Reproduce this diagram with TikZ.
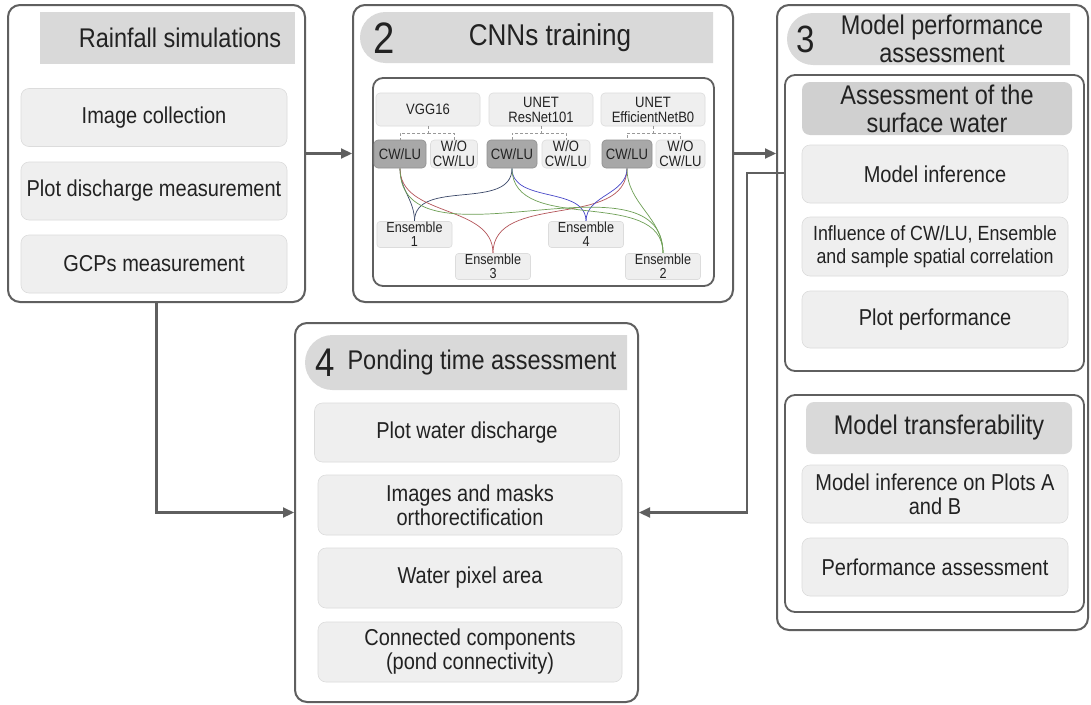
\documentclass[tikz,border=0pt]{standalone}
\usepackage{fontspec}
\setmainfont{Liberation Sans}[FakeStretch=0.87]
\usetikzlibrary{arrows.meta,shapes.misc,backgrounds}

\definecolor{boxline}{HTML}{5F5F5F}
\definecolor{hdrgrey}{HTML}{D9D9D9}
\definecolor{hdrdark}{HTML}{D0D0D0}
\definecolor{itemfill}{HTML}{EFEFEF}
\definecolor{itemline}{HTML}{DCDCDC}
\definecolor{cwfill}{HTML}{A8A8A8}
\definecolor{txt}{HTML}{222222}
\definecolor{ensA}{HTML}{3B4868}
\definecolor{ensB}{HTML}{6E9F55}
\definecolor{ensC}{HTML}{B4555A}
\definecolor{ensD}{HTML}{4646C8}

\newcommand{\fhead}{\fontsize{27}{28}\selectfont}
\newcommand{\fitem}{\fontsize{23}{24}\selectfont}
\newcommand{\fsmall}{\fontsize{15}{15}\selectfont}
\newcommand{\fens}{\fontsize{14.5}{14}\selectfont}

\tikzset{
  mainbox/.style={draw=boxline, line width=2pt, rounded corners=12pt},
  subbox/.style={draw=boxline, line width=1.8pt, rounded corners=10pt},
  hdr/.style={fill=hdrgrey, inner sep=0pt, text=txt, align=center, font=\fhead},
  hdrround/.style={hdr, shape=rounded rectangle, rounded rectangle right arc=none},
  ttl/.style={text=txt, align=center, inner sep=0pt},
  item/.style={fill=itemfill, draw=itemline, line width=0.6pt, rounded corners=8pt,
    inner sep=0pt, text=txt, font=\fitem, align=center},
  model/.style={item, font=\fsmall, rounded corners=4pt},
  cw/.style={model, fill=cwfill, draw=cwfill!85!black},
  ens/.style={model, font=\fens, rounded corners=3pt},
  link/.style={draw=boxline, line width=2.2pt, -{Triangle[length=11pt,width=10pt]}},
  brk/.style={draw=black!40, densely dashed, line width=0.5pt},
  mix/.style={line width=0.7pt, out=-90, in=90},
}

\begin{document}
\begin{tikzpicture}[x=1pt,y=-1pt]
  \useasboundingbox (0,0) rectangle (1091,704);

  % rainfall simulations
  \node[mainbox, minimum width=297pt, minimum height=297pt] (rain) at (156.5,153.5) {};
  \node[hdr, minimum width=255pt, minimum height=52pt] (rainhd) at (167.5,38) {};
  \node[ttl, font=\fhead] (raintt) at (180,38) {Rainfall simulations};
  \node[item, minimum width=266pt, minimum height=58pt] (img) at (154,117.5) {Image collection};
  \node[item, minimum width=266pt, minimum height=58pt] (dis) at (154,191) {Plot discharge measurement};
  \node[item, minimum width=266pt, minimum height=58pt] (gcp) at (154,264) {GCPs measurement};

  % CNNs training
  \node[mainbox, minimum width=380pt, minimum height=297pt] (cnn) at (543,153.5) {};
  \node[hdrround, minimum width=353pt, minimum height=51pt] (cnnhd) at (536.5,37.5) {};
  \node[ttl, font=\fontsize{44}{44}\selectfont] (cnnno) at (384,38) {2};
  \node[ttl, font=\fontsize{30}{30}\selectfont] (cnntt) at (550,38) {CNNs training};
  \node[subbox, minimum width=341pt, minimum height=208pt] (net) at (543.5,182) {};

  \node[model, minimum width=104pt, minimum height=33pt] (vgg) at (428,109.5) {VGG16};
  \node[model, minimum width=104pt, minimum height=33pt] (res) at (541,109.5) {UNET\\ResNet101};
  \node[model, minimum width=104pt, minimum height=33pt] (eff) at (653,109.5) {UNET\\EfficientNetB0};

  \node[cw, minimum width=52pt, minimum height=28pt] (cw1) at (400,154) {CW/LU};
  \node[model, minimum width=47pt, minimum height=28pt] (wo1) at (454,154) {W/O\\CW/LU};
  \node[cw, minimum width=50pt, minimum height=28pt] (cw2) at (512,154) {CW/LU};
  \node[model, minimum width=48pt, minimum height=28pt] (wo2) at (566,154) {W/O\\CW/LU};
  \node[cw, minimum width=50pt, minimum height=28pt] (cw3) at (627,154) {CW/LU};
  \node[model, minimum width=49pt, minimum height=28pt] (wo3) at (680.5,154) {W/O\\CW/LU};

  \foreach \m/\a/\b in {vgg/cw1/wo1, res/cw2/wo2, eff/cw3/wo3} {
    \draw[brk] (\m.south) -- ++(0,7) -| (\a.north);
    \draw[brk] (\m.south) ++(0,7) -| (\b.north);
  }

  \node[ens, minimum width=75pt, minimum height=26pt] (e1) at (414.5,234.5) {Ensemble\\1};
  \node[ens, minimum width=75pt, minimum height=26pt] (e4) at (586,234.5) {Ensemble\\4};
  \node[ens, minimum width=75pt, minimum height=26pt] (e3) at (493,266.5) {Ensemble\\3};
  \node[ens, minimum width=75pt, minimum height=26pt] (e2) at (663,266.5) {Ensemble\\2};

  \begin{scope}[on background layer]
    \fill[white] (0,0) rectangle (1091,704);
    \foreach \s/\t/\c in {cw1/e1/ensA, cw2/e1/ensA, cw1/e3/ensC, cw3/e3/ensC,
                          cw2/e4/ensD, cw3/e4/ensD, cw1/e2/ensB, cw2/e2/ensB, cw3/e2/ensB}
      \draw[mix, \c] (\s.south) to (\t.north);
  \end{scope}

  % model performance assessment
  \node[mainbox, minimum width=311pt, minimum height=625pt] (perf) at (932.5,317.5) {};
  \node[hdrround, minimum width=283pt, minimum height=52pt] (perfhd) at (928.5,39) {};
  \node[ttl, font=\fontsize{38}{38}\selectfont] (perfno) at (806,39) {3};
  \node[ttl, font=\fhead] (perftt) at (942,39) {Model performance\\assessment};

  \node[subbox, minimum width=299pt, minimum height=296pt] (surf) at (934.5,223) {};
  \node[hdr, fill=hdrdark, rounded corners=8pt, minimum width=270pt, minimum height=53pt] (surfhd) at (937,108.5) {Assessment of the\\surface water};
  \node[item, minimum width=266pt, minimum height=58pt] (inf) at (935,174) {Model inference};
  \node[item, font=\fontsize{20.5}{23}\selectfont, minimum width=266pt, minimum height=59pt] (infl) at (935,246.5) {Influence of CW/LU, Ensemble\\and sample spatial correlation};
  \node[item, minimum width=266pt, minimum height=57pt] (plotp) at (935,319.5) {Plot performance};

  \node[subbox, minimum width=299pt, minimum height=217pt] (trans) at (934.5,503.5) {};
  \node[hdr, rounded corners=8pt, minimum width=266pt, minimum height=52pt] (transhd) at (939,428) {Model transferability};
  \node[item, minimum width=266pt, minimum height=58pt] (infab) at (935,494) {Model inference on Plots A\\and B};
  \node[item, minimum width=266pt, minimum height=58pt] (pass) at (935,567) {Performance assessment};

  % ponding time assessment
  \node[mainbox, minimum width=343pt, minimum height=379pt] (pond) at (466.5,512.5) {};
  \node[hdrround, minimum width=322pt, minimum height=55pt] (pondhd) at (466,362.5) {};
  \node[ttl, font=\fontsize{40}{40}\selectfont] (pondno) at (325,362.5) {4};
  \node[ttl, font=\fhead] (pondtt) at (482,362.5) {Ponding time assessment};
  \node[item, minimum width=305pt, minimum height=59pt] (pwd) at (467,432.5) {Plot water discharge};
  \node[item, minimum width=304pt, minimum height=60pt] (ortho) at (470,505) {Images and masks\\orthorectification};
  \node[item, minimum width=304pt, minimum height=60pt] (wpa) at (470,578) {Water pixel area};
  \node[item, minimum width=304pt, minimum height=60pt] (conn) at (470,652) {Connected components\\(pond connectivity)};

  % connectors
  \draw[link] (rain.east) -- (cnn.west);
  \draw[link] (cnn.east) -- (cnn.east -| perf.west);
  \draw[link] ([yshift=50pt]surf.west) -- ++(-37,0) |- (pond.east);
  \draw[link] (rain.south) |- (pond.west);
\end{tikzpicture}
\end{document}
